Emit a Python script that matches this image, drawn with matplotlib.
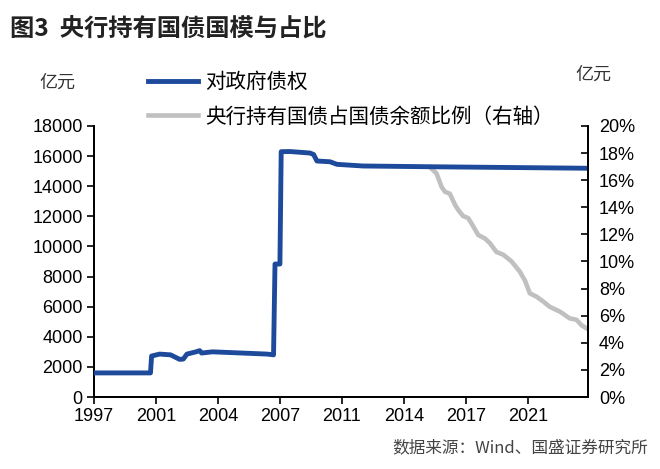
import matplotlib
matplotlib.use("Agg")
import matplotlib.pyplot as plt
from matplotlib.ticker import FuncFormatter, MultipleLocator
from matplotlib.lines import Line2D

CJK = ["Noto Sans CJK SC", "DejaVu Sans"]
NUM = ["Liberation Sans", "Noto Sans CJK SC"]
BLUE, GREY = "#1D4A9A", "#C0C0C0"

# 对政府债权 (亿元), decimal years
claim_x = [1997.0, 2000.1, 2000.16, 2000.6, 2001.2, 2001.7, 2001.9, 2002.1, 2002.6,
           2002.8, 2002.9, 2003.5, 2006.5, 2006.85, 2006.93, 2007.2, 2007.27, 2007.75,
           2008.85, 2009.05, 2009.23, 2009.95, 2010.33, 2011.75, 2015.4, 2024.05]
claim_y = [1600, 1600, 2720, 2850, 2800, 2500, 2520, 2850, 3000,
           3080, 2920, 3000, 2850, 2800, 8830, 8830, 16290, 16300,
           16200, 16100, 15670, 15620, 15450, 15340, 15290, 15190]

# 央行持有国债占国债余额比例 (%)
share_x = [2015.43, 2015.79, 2016.07, 2016.25, 2016.52, 2016.80, 2016.98, 2017.25,
           2017.53, 2017.80, 2018.08, 2018.44, 2018.72, 2019.08, 2019.45, 2019.91,
           2020.36, 2020.64, 2020.91, 2021.28, 2021.64, 2022.01, 2022.56, 2023.10,
           2023.47, 2023.74, 2024.10]
share_y = [16.95, 16.5, 15.5, 15.15, 15.0, 14.2, 13.8, 13.35,
           13.2, 12.6, 11.95, 11.7, 11.35, 10.7, 10.5, 10.0,
           9.25, 8.6, 7.65, 7.4, 7.05, 6.65, 6.3, 5.8,
           5.7, 5.3, 5.0]

tick_labels = ["1997", "2001", "2004", "2007", "2011", "2014", "2017", "2021"]
tick_pos = [1997 + 3.4 * i for i in range(len(tick_labels))]

fig = plt.figure(figsize=(6.6, 4.69), dpi=100)
ax = fig.add_axes([0.1424, 0.1535, 0.7485, 0.578])
ax2 = ax.twinx()

ax.plot(claim_x, claim_y, color=BLUE, lw=3.5, solid_capstyle="butt", zorder=3)
ax2.plot(share_x, [v / 100 for v in share_y], color=GREY, lw=3.3, zorder=2)

ax.set_xlim(1997, 2024.1)
ax.set_ylim(0, 18000)
ax2.set_ylim(0, 0.2)
ax.set_xticks(tick_pos)
ax.set_xticklabels(tick_labels)
ax.yaxis.set_major_locator(MultipleLocator(2000))
ax2.yaxis.set_major_locator(MultipleLocator(0.02))
ax2.yaxis.set_major_formatter(FuncFormatter(lambda v, p: f"{v * 100:.0f}%"))

for a in (ax, ax2):
    a.spines["top"].set_visible(False)
    for s in ("left", "right", "bottom"):
        a.spines[s].set_linewidth(1.3)
    for lab in a.get_xticklabels() + a.get_yticklabels():
        lab.set_family(NUM)
        lab.set_fontsize(13)
ax.tick_params(axis="y", direction="out", length=5, width=1.2, pad=3)
ax.tick_params(axis="x", direction="out", length=5, width=1.2, pad=3)
ax2.tick_params(axis="y", direction="in", length=5, width=1.2, pad=8)
ax.set_zorder(ax2.get_zorder() + 1)
ax.patch.set_visible(False)

fig.text(0.015, 0.94, "图3  央行持有国债国模与占比", family=CJK, fontsize=17.5,
         fontweight="bold", color="#222222", va="center")
fig.text(0.06, 0.823, "亿元", family=CJK, fontsize=13, color="#333333", va="center")
fig.text(0.872, 0.84, "亿元", family=CJK, fontsize=13, color="#333333", va="center")

handles = [Line2D([], [], color=BLUE, lw=3.5), Line2D([], [], color=GREY, lw=3.3)]
labels = ["对政府债权", "央行持有国债占国债余额比例（右轴）"]
fig.legend(handles, labels, loc="upper left", bbox_to_anchor=(0.224, 0.848),
           frameon=False, prop={"family": CJK, "size": 14.8}, handlelength=2.45,
           handletextpad=0.35, labelspacing=0.6, borderaxespad=0, borderpad=0)

fig.text(0.982, 0.045, "数据来源：Wind、国盛证券研究所", family=CJK, fontsize=12,
         color="#444444", ha="right", va="center")

fig.savefig("out.png", dpi=100)
